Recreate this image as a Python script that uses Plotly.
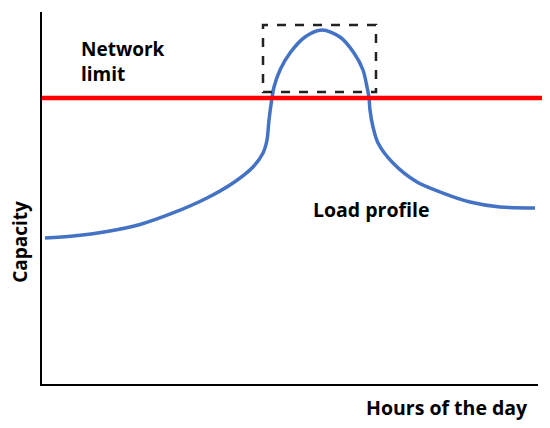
import plotly.graph_objects as go

# load profile over the day (hours, capacity units 0-100)
hours = [0.145, 1.500, 3.145, 4.742, 6.339, 7.984, 9.242, 10.210, 10.694, 10.887,
         10.984, 11.129, 11.226, 11.516, 12.000, 12.726, 13.548, 14.419, 15.097,
         15.532, 15.726, 15.823, 15.871, 16.016, 16.258, 16.984, 18.145, 19.403,
         20.710, 22.161, 23.855]
load = [39.25, 39.78, 40.99, 42.88, 45.97, 50.00, 54.03, 58.33, 62.10, 65.59,
        70.97, 76.88, 79.84, 84.41, 88.98, 93.28, 95.16, 93.28, 88.98,
        84.41, 79.84, 76.88, 73.66, 69.09, 64.78, 59.41, 54.30, 51.34,
        48.92, 47.58, 47.31]

network_limit = 76.88
peak_box_x = [10.694, 16.161]
peak_box_y = [78.49, 96.51]

BLUE = "#4472C4"
RED = "#FF0000"
FONT = "Open Sans"

fig = go.Figure()

fig.add_trace(go.Scatter(
    x=hours, y=load, mode="lines",
    line=dict(color=BLUE, width=3.5, shape="spline", smoothing=0.85),
    hoverinfo="skip", showlegend=False,
))

# network limit, runs past the right end of the x axis
fig.add_shape(type="line", xref="paper", yref="y",
              x0=0, x1=1.03, y0=network_limit, y1=network_limit,
              line=dict(color=RED, width=4.5))

# dashed box around the peak
fig.add_shape(type="rect", xref="x", yref="y",
              x0=peak_box_x[0], x1=peak_box_x[1], y0=peak_box_y[0], y1=peak_box_y[1],
              line=dict(color="#222222", width=2.5, dash="dash"))

txt = dict(family=FONT, size=19, color="black")
fig.add_annotation(x=1.8, y=86.6, xref="x", yref="y", text="<b>Network<br>limit</b>",
                   showarrow=False, xanchor="left", yanchor="middle", align="left", font=txt)
fig.add_annotation(x=15.92, y=46.8, xref="x", yref="y", text="<b>Load profile</b>",
                   showarrow=False, xanchor="center", yanchor="middle",
                   font=dict(family=FONT, size=19.5, color="black"))
fig.add_annotation(x=0.8165, y=-0.0645, xref="paper", yref="paper", text="<b>Hours of the day</b>",
                   showarrow=False, xanchor="center", yanchor="middle",
                   font=dict(family=FONT, size=19.5, color="black"))
fig.add_annotation(x=-0.0444, y=0.382, xref="paper", yref="paper", text="<b>Capacity</b>",
                   showarrow=False, textangle=-90, xanchor="center", yanchor="middle", font=txt)

# page body adds an 8px offset, so the figure is shrunk to fit the window
fig.update_layout(
    width=542, height=420,
    margin=dict(l=34, r=12, t=4, b=44),
    paper_bgcolor="white", plot_bgcolor="white",
    xaxis=dict(range=[0, 24], showgrid=False, zeroline=False, showticklabels=False,
               ticks="", showline=True, linecolor="black", linewidth=2),
    yaxis=dict(range=[0, 100], showgrid=False, zeroline=False, showticklabels=False,
               ticks="", showline=True, linecolor="black", linewidth=2),
)

fig.write_html("out.html")
